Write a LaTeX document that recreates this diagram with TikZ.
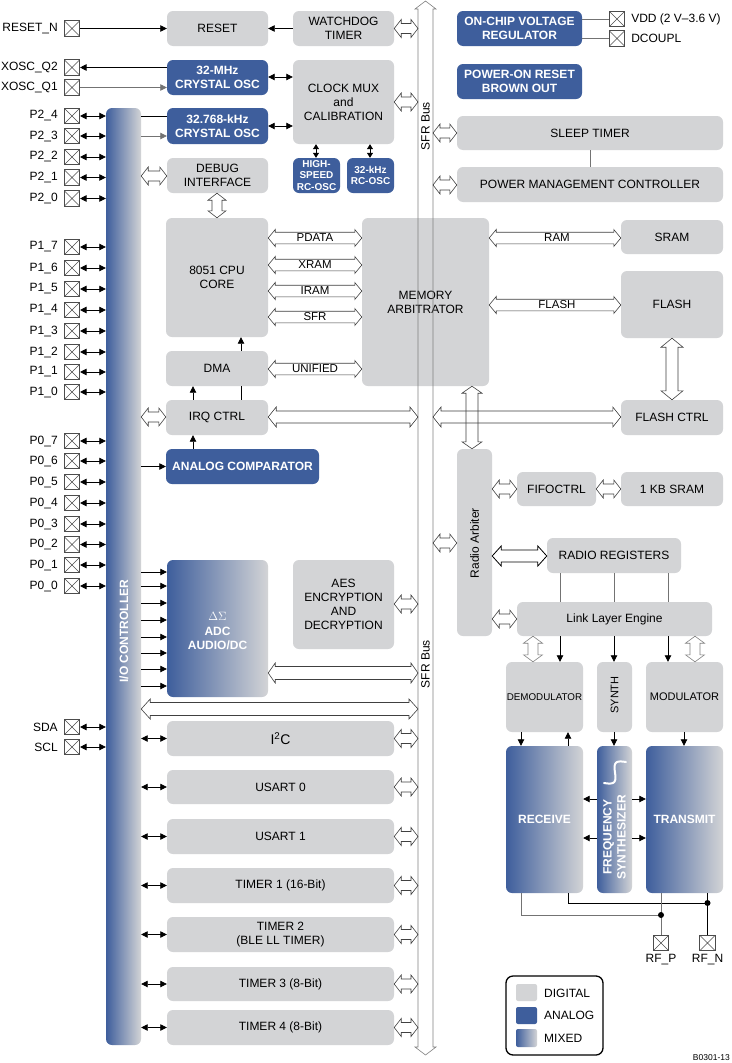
\documentclass[tikz,border=0pt]{standalone}
\usepackage{fontspec}
\setmainfont{Liberation Sans}
\usetikzlibrary{calc,arrows.meta}
\definecolor{dg}{HTML}{D3D4D6}
\definecolor{ab}{HTML}{3E5E9C}
\newcommand\tf{\fontsize{12}{14}\selectfont}
\newcommand\bfn{\fontsize{12}{14}\selectfont\bfseries}
\newcommand\sfn{\fontsize{10}{11.7}\selectfont\bfseries}
\newcommand\lfn{\fontsize{11.5}{13}\selectfont}
\newcommand\blk[7][]{%
  \pgfmathsetmacro\Bw{#5-#3}\pgfmathsetmacro\Bh{#6-#4}%
  \pgfmathsetmacro\Bx{(#3+#5)/2}\pgfmathsetmacro\By{(#4+#6)/2}%
  \node[#1,minimum width=\Bw pt,minimum height=\Bh pt] (#2) at (\Bx,\By) {#7};}
\newcommand\hba[7][hol]{\draw[#1] let \p1=(#2), \p2=(#3) in
 (\x1,-#4pt) -- (\x1+#7pt,-#4pt+#6pt) -- (\x1+#7pt,-#4pt+#5pt) -- (\x2-#7pt,-#4pt+#5pt) -- (\x2-#7pt,-#4pt+#6pt) -- (\x2,-#4pt) -- (\x2-#7pt,-#4pt-#6pt) -- (\x2-#7pt,-#4pt-#5pt) -- (\x1+#7pt,-#4pt-#5pt) -- (\x1+#7pt,-#4pt-#6pt) -- cycle;}
\newcommand\vba[7][hol]{\draw[#1] let \p1=(#2), \p2=(#3) in
 (#4pt,\y1) -- (#4pt+#6pt,\y1-#7pt) -- (#4pt+#5pt,\y1-#7pt) -- (#4pt+#5pt,\y2+#7pt) -- (#4pt+#6pt,\y2+#7pt) -- (#4pt,\y2) -- (#4pt-#6pt,\y2+#7pt) -- (#4pt-#5pt,\y2+#7pt) -- (#4pt-#5pt,\y1-#7pt) -- (#4pt-#6pt,\y1-#7pt) -- cycle;}
\begin{document}
\begin{tikzpicture}[x=1pt,y=-1pt,
 >={Triangle[length=6.5pt,width=6.5pt]},
 dig/.style={fill=dg,rounded corners=6pt,inner sep=1pt,align=center,font=\tf},
 ana/.style={fill=ab,rounded corners=6pt,inner sep=1pt,align=center,font=\bfn,text=white},
 mix/.style={left color=ab,right color=dg,rounded corners=6pt,inner sep=1pt,align=center,font=\bfn,text=white},
 pinb/.style={draw=black!70,fill=white,minimum size=15.5pt,inner sep=0pt,line width=0.6pt,
   path picture={\draw[black!70,line width=0.5pt] (path picture bounding box.north west) -- (path picture bounding box.south east) (path picture bounding box.south west) -- (path picture bounding box.north east);}},
 lab/.style={font=\tf,inner sep=1pt},
 plab/.style={font=\tf,inner xsep=6pt,inner ysep=1pt},
 ln/.style={line width=0.8pt,black},
 lg/.style={line width=0.8pt,black!55},
 hol/.style={draw=black!75,line width=0.6pt},
 holk/.style={draw=black,line width=0.8pt},
 holg/.style={draw=black!50,line width=0.6pt}]
\fill[white] (0,0) rectangle (731,1063);
\useasboundingbox (0,0) rectangle (731,1063);

% ---------- blocks ----------
\blk[dig]{reset}{167}{11}{268}{46}{RESET}
\blk[dig]{wd}{293}{11}{394}{46}{WATCHDOG\\TIMER}
\blk[ana]{xo32m}{167}{60}{268}{95}{32-MHz\\CRYSTAL OSC}
\blk[ana]{xo32k}{167}{108}{268}{144}{32.768-kHz\\CRYSTAL OSC}
\blk[dig]{cmux}{293}{60}{394}{144}{CLOCK MUX\\and\\CALIBRATION}
\blk[ana,font=\sfn]{hsrc}{293}{158}{340}{193}{HIGH-\\SPEED\\RC-OSC}
\blk[ana,font=\sfn]{rc32}{347}{158}{394}{193}{32-kHz\\RC-OSC}
\blk[dig]{dbg}{167}{158}{268}{193}{DEBUG\\INTERFACE}
\blk[ana]{vreg}{457}{11}{582}{46}{ON-CHIP VOLTAGE\\REGULATOR}
\blk[ana]{por}{457}{64}{582}{99}{POWER-ON RESET\\BROWN OUT}
\blk[dig]{slp}{457}{116}{723}{150}{SLEEP TIMER}
\blk[dig]{pmc}{457}{167}{723}{202}{POWER MANAGEMENT CONTROLLER}
\blk[dig]{cpu}{166}{218}{268}{337}{8051 CPU\\CORE}
\blk[dig]{ma}{362}{218}{489}{386}{MEMORY\\ARBITRATOR}
\blk[dig]{dma}{166}{351}{268}{386}{DMA}
\blk[dig]{irq}{166}{400}{268}{435}{IRQ CTRL}
\blk[ana]{acmp}{166}{449}{319}{484}{ANALOG COMPARATOR}
\blk[dig]{sram}{621}{220}{723}{254}{SRAM}
\blk[dig]{flash}{621}{271}{723}{338}{FLASH}
\blk[dig]{fctl}{621}{400}{723}{435}{FLASH CTRL}
\blk[dig]{ra}{457}{449}{492}{636}{}
\node[rotate=90,font=\tf] (ralab) at (474.5,543) {Radio Arbiter};
\blk[dig]{fifo}{517}{472}{596}{506}{FIFOCTRL}
\blk[dig]{ksram}{621}{472}{723}{506}{1 KB SRAM}
\blk[dig]{rr}{547}{538}{681}{573}{RADIO REGISTERS}
\blk[dig]{lle}{517}{602}{712}{636}{Link Layer Engine}
\blk[dig,font=\fontsize{9.8}{12}\selectfont,inner sep=0pt]{demod}{506}{662}{583}{732}{DEMODULATOR}
\blk[dig]{synth}{597}{662}{632}{732}{}
\node[rotate=90,font=\fontsize{11}{13}\selectfont] (synlab) at (614.5,695) {SYNTH};
\blk[dig,font=\fontsize{11}{13}\selectfont]{mod}{646}{662}{723}{732}{MODULATOR}
\blk[mix]{rx}{506}{746}{583}{893}{RECEIVE}
\blk[mix]{fs}{597}{746}{632}{893}{}
\node[rotate=90,font=\bfn,text=white,align=center] (fslab) at (614.5,837) {FREQUENCY\\SYNTHESIZER};
\draw[white,line width=2pt,line cap=round] plot[smooth,domain=0:1,samples=25] ({604+22*\x+4.5*sin(360*\x)},{783-21*\x+4.5*sin(360*\x)});
\blk[mix]{tx}{646}{746}{723}{893}{TRANSMIT}
\blk[mix]{adc}{167}{560}{268}{697}{}
\node[font=\fontsize{12}{14}\selectfont,text=white] (adcd) at (217.5,616) {$\Delta\Sigma$};
\node[font=\bfn,text=white,align=center] (adct) at (217.5,638) {ADC\\AUDIO/DC};
\blk[dig]{aes}{293}{560}{394}{649}{AES\\ENCRYPTION\\AND\\DECRYPTION}
\blk[dig,font=\fontsize{14}{16}\selectfont]{i2c}{167}{721}{394}{756}{I\textsuperscript{2}C}
\blk[dig]{us0}{167}{770}{394}{804}{USART 0}
\blk[dig]{us1}{167}{819}{394}{854}{USART 1}
\blk[dig]{t1}{167}{868}{394}{903}{TIMER 1 (16-Bit)}
\blk[dig]{t2}{167}{917}{394}{952}{TIMER 2\\(BLE LL TIMER)}
\blk[dig]{t3}{167}{967}{394}{1001}{TIMER 3 (8-Bit)}
\blk[dig]{t4}{167}{1010}{394}{1045}{TIMER 4 (8-Bit)}
\blk[mix]{io}{106}{108}{141}{1045}{}
\node[rotate=90,font=\bfn,text=white] (iolab) at (124,631) {I/O CONTROLLER};

% ---------- pins ----------
\node[pinb,label={[plab]left:RESET\_N}] (pRST) at (72,28.5) {};
\node[pinb,label={[plab]left:XOSC\_Q2}] (pXQ2) at (72,67.5) {};
\node[pinb,label={[plab]left:XOSC\_Q1}] (pXQ1) at (72,87.5) {};
\foreach \b/\y in {4/116,3/136,2/157,1/177.5,0/198.5}
  \node[pinb,label={[plab]left:P2\_\b}] (p2\b) at (72,\y) {};
\foreach \b/\y in {7/247,6/268,5/289,4/310,3/331,2/352,1/372,0/392}
  \node[pinb,label={[plab]left:P1\_\b}] (p1\b) at (72,\y) {};
\foreach \b/\y in {7/441,6/461,5/482,4/503,3/524,2/544.5,1/565,0/586}
  \node[pinb,label={[plab]left:P0\_\b}] (p0\b) at (72,\y) {};
\node[pinb,label={[plab]left:SDA}] (pSDA) at (72,727) {};
\node[pinb,label={[plab]left:SCL}] (pSCL) at (72,747) {};
\node[pinb,label={[plab]right:VDD (2 V--3.6 V)}] (pVDD) at (617,19) {};
\node[pinb,label={[plab]right:DCOUPL}] (pDC) at (617,38.5) {};
\node[pinb,label={[lab,inner ysep=3pt]below:RF\_P}] (pRFP) at (661,943) {};
\node[pinb,label={[lab,inner ysep=3pt]below:RF\_N}] (pRFN) at (707.5,943) {};

% ---------- SFR bus ----------
\coordinate (busT) at (425.5,1);
\coordinate (busB) at (425.5,1055);
\coordinate (busL) at (418,0);
\coordinate (busR) at (433,0);
\vba[holg]{busT}{busB}{425.5}{7.5}{10.5}{8}
\node[rotate=90,font=\tf] (sfr1) at (425.5,126) {SFR Bus};
\node[rotate=90,font=\tf] (sfr2) at (425.5,664) {SFR Bus};

% ---------- hollow connectors ----------
\hba{wd.east}{busL}{28.5}{5}{9}{7}
\hba{cmux.east}{busL}{102}{5}{9}{7}
\hba{io.east}{dbg.west}{176}{5}{9}{7}
\hba{busR}{slp.west}{133}{5}{9}{7}
\hba{busR}{pmc.west}{185}{5}{9}{7}
\hba{cpu.east}{ma.west}{238}{5.8}{8.5}{7}
\hba{cpu.east}{ma.west}{265}{5.8}{8.5}{7}
\hba{cpu.east}{ma.west}{291}{5.8}{8.5}{7}
\hba{cpu.east}{ma.west}{317}{5.8}{8.5}{7}
\hba{dma.east}{ma.west}{369}{5.8}{8.5}{7}
\hba{ma.east}{sram.west}{238}{5.8}{8.5}{7}
\hba{ma.east}{flash.west}{305}{5.8}{8.5}{7}
\node[font=\lfn,inner sep=0pt] (lPD) at (315,238) {PDATA};
\node[font=\lfn,inner sep=0pt] (lXR) at (315,265) {XRAM};
\node[font=\lfn,inner sep=0pt] (lIR) at (315,291) {IRAM};
\node[font=\lfn,inner sep=0pt] (lSF) at (315,317) {SFR};
\node[font=\lfn,inner sep=0pt] (lUN) at (315,369) {UNIFIED};
\node[font=\lfn,inner sep=0pt] (lRA) at (557,238) {RAM};
\node[font=\lfn,inner sep=0pt] (lFL) at (557,305) {FLASH};
\hba{io.east}{irq.west}{417}{5}{9}{7}
\hba{irq.east}{busL}{417}{6}{10}{8}
\hba{busR}{fctl.west}{417}{6}{10}{8}
\hba{busR}{ra.west}{543}{5}{9}{7}
\hba{ra.east}{fifo.west}{489}{5}{9}{7}
\hba{fifo.east}{ksram.west}{489}{5}{9}{7}
\hba[holk]{ra.east}{rr.west}{556}{6}{10}{9}
\hba{ra.east}{lle.west}{619}{5}{9}{7}
\hba{aes.east}{busL}{604}{5}{9}{7}
\hba{adc.east}{busL}{673}{6.5}{10}{7}
\hba{io.east}{busL}{709}{6.5}{10}{9}
\hba{i2c.east}{busL}{738.5}{5}{9}{7}
\hba{us0.east}{busL}{787}{5}{9}{7}
\hba{us1.east}{busL}{836.5}{5}{9}{7}
\hba{t1.east}{busL}{885.5}{5}{9}{7}
\hba{t2.east}{busL}{934.5}{5}{9}{7}
\hba{t3.east}{busL}{984}{5}{9}{7}
\hba{t4.east}{busL}{1027.5}{5}{9}{7}
\vba{dbg.south}{cpu.north}{217}{5}{9}{7}
\vba{flash.south}{fctl.north}{672}{6}{11}{9}
\vba{ma.south}{ra.north}{472}{6}{10}{7}
\vba[holg]{lle.south}{demod.north}{533}{5}{9.5}{7}
\vba[holg]{lle.south}{mod.north}{695}{5}{9.5}{7}

% ---------- solid connectors ----------
\draw[ln,->] (pRST.east) -- (reset.west |- pRST);
\draw[ln,->] (wd.west |- pRST) -- (reset.east |- pRST);
\draw[ln,->] (xo32m.west |- pXQ2) -- (pXQ2.east);
\draw[lg,->] (pXQ1.east) -- (xo32m.west |- pXQ1);
\draw[ln] (io.east |- p24) -- (xo32k.west |- p24);
\draw[lg,->] (io.east |- p23) -- (xo32k.west |- p23);
\draw[ln,<->] (xo32m.east |- 0,77) -- (cmux.west |- 0,77);
\draw[ln,<->] (xo32k.east |- 0,126) -- (cmux.west |- 0,126);
\draw[ln,<->,>={Triangle[length=5pt,width=6pt]}] (cmux.south -| 316,0) -- (hsrc.north -| 316,0);
\draw[ln,<->,>={Triangle[length=5pt,width=6pt]}] (cmux.south -| 370,0) -- (rc32.north -| 370,0);
\foreach \n in {p24,p23,p22,p21,p20,p17,p16,p15,p14,p13,p12,p11,p10,p07,p06,p05,p04,p03,p02,p01,p00,pSDA,pSCL}
  \draw[ln,<->] (\n.east) -- (\n.east -| io.west);
\draw[ln] (irq.north -| 241,0) -- (dma.south -| 241,0);
\draw[ln,->] (dma.north -| 241,0) -- (cpu.south -| 241,0);
\draw[ln,->] (irq.north -| 193,0) -- (dma.south -| 193,0);
\draw[ln,->] (acmp.north -| 193,0) -- (irq.south -| 193,0);
\draw[ln,->] (io.east |- acmp) -- (acmp.west);
\foreach \y in {572,586,603,620,637,653,669,686}
  \draw[ln,->] (io.east |- 0,\y) -- (adc.west |- 0,\y);
\foreach \n in {i2c,us0,us1,t1,t2,t3,t4}
  \draw[ln,<->] (io.east |- \n) -- (\n.west);
\draw[lg] (slp.south -| 590,0) -- (pmc.north -| 590,0);
\draw[lg] (vreg.east |- pVDD) -- (pVDD.west);
\draw[lg] (vreg.east |- pDC) -- (pDC.west);
\foreach \x in {560,614,668}
  \draw[lg] (rr.south -| \x,0) -- (lle.north -| \x,0);
\draw[ln,->] (lle.south -| 560,0) -- (demod.north -| 560,0);
\draw[ln,->] (lle.south -| 614,0) -- (synth.north -| 614,0);
\draw[ln,->] (lle.south -| 668,0) -- (mod.north -| 668,0);
\draw[ln,->] (demod.south -| 521,0) -- (rx.north -| 521,0);
\draw[ln,->] (rx.north -| 568,0) -- (demod.south -| 568,0);
\draw[ln,->] (synth.south -| 614,0) -- (fs.north -| 614,0);
\draw[ln,->] (mod.south -| 684,0) -- (tx.north -| 684,0);
\foreach \y in {799,838}{
  \draw[ln,->] (fs.west |- 0,\y) -- (rx.east |- 0,\y);
  \draw[ln,->] (fs.east |- 0,\y) -- (tx.west |- 0,\y);}
\coordinate (dP) at (661,915);
\coordinate (dN) at (707.5,903);
\draw[lg] (rx.south -| 521,0) |- (dP);
\draw[ln] (rx.south -| 568,0) |- (dN);
\draw[lg] (tx.south -| dP) -- (pRFP.north);
\draw[ln] (tx.south -| dN) -- (pRFN.north);
\fill (dP) circle (3pt);
\fill (dN) circle (3pt);

% ---------- legend ----------
\node[draw,line width=1.3pt,rounded corners=7pt,minimum width=97pt,minimum height=79pt] (leg) at (554.5,1015.5) {};
\blk[fill=dg,rounded corners=2pt]{sw1}{516}{984}{537}{1001}{}
\blk[fill=ab,rounded corners=2pt]{sw2}{516}{1007}{537}{1024}{}
\blk[left color=ab,right color=dg,rounded corners=2pt]{sw3}{516}{1029}{537}{1047}{}
\node[lab,anchor=west] (lg1) at (543,993) {DIGITAL};
\node[lab,anchor=west] (lg2) at (543,1015.5) {ANALOG};
\node[lab,anchor=west] (lg3) at (543,1038) {MIXED};
\node[anchor=east,inner sep=0pt,font=\fontsize{8.5}{10}\selectfont] (code) at (730,1058) {B0301-13};
\end{tikzpicture}
\end{document}
